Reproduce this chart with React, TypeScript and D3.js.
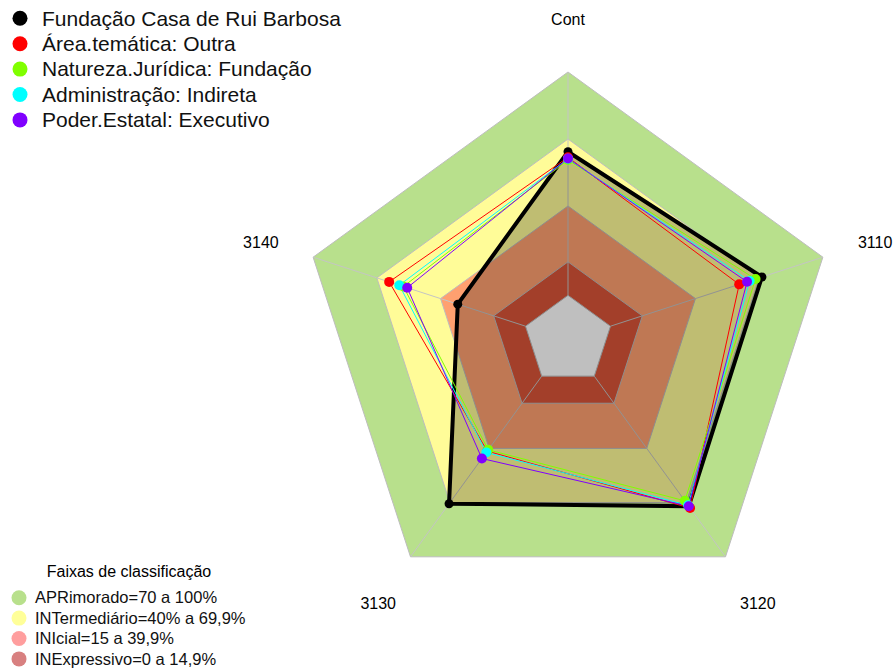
import * as d3 from 'd3';
import React, { useRef, useEffect } from 'react';

// axes of the radar, clockwise from the top
const axes = ['Cont', '3110', '3120', '3130', '3140'];

// series names and values (percent) per axis
const seriesNames = [
    'Fundação Casa de Rui Barbosa',
    'Área.temática: Outra',
    'Natureza.Jurídica: Fundação',
    'Administração: Indireta',
    'Poder.Estatal: Executivo'
];
const fundacao = [64.3, 71.3, 72, 70.6, 31.9];
const areaTematica = [61.8, 60.6, 73, 41.5, 64.2];
const naturezaJuridica = [60.6, 68.3, 69, 40.8, 57.5];
const administracao = [61.2, 65.5, 71.5, 42.2, 59.4];
const poderEstatal = [61.3, 64.3, 72, 45.6, 55.7];
const seriesColors = ['#000000', '#ff0000', '#80ff00', '#00ffff', '#8000ff'];

// classification bands (upper limit of each band)
const bandNames = [
    'APRimorado=70 a 100%',
    'INTermediário=40% a 69,9%',
    'INIcial=15 a 39,9%',
    'INExpressivo=0 a 14,9%'
];
const bandLimits = [100, 70, 40, 15];
const bandFills = ['#b8e08c', '#fffc98', '#ffa070', '#da5538'];
const bandLegendColors = ['#b8e08c', '#ffff99', '#ff9e9e', '#d88080'];

const App = () => {
    const svgRef = useRef(null);

    useEffect(() => {
        const width = 896;
        const height = 670;
        const cx = 568;
        const cy = 340;
        const R = 268;

        const svg = d3.select(svgRef.current);
        svg.selectAll('*').remove();
        svg.attr('width', width).attr('height', height)
            .style('font-family', 'Liberation Sans, Arial, sans-serif');

        // fmsb-like scale: 0 sits at 1/6 of the radius
        const r = d3.scaleLinear().domain([0, 100]).range([R / 6, R]);
        const angle = d3.scalePoint().domain(axes).range([0, 2 * Math.PI * 4 / 5]);

        const radial = d3.lineRadial()
            .angle((d, i) => angle(axes[i]))
            .radius((d) => r(d))
            .curve(d3.curveLinearClosed);

        const g = svg.append('g').attr('transform', `translate(${cx},${cy})`);

        // bands, outer first
        bandLimits.forEach((lim, i) => {
            g.append('path')
                .attr('d', radial(axes.map(() => lim)))
                .attr('fill', bandFills[i])
                .attr('stroke', '#bdbdbd')
                .attr('stroke-width', 1);
        });
        g.append('path')
            .attr('d', radial(axes.map(() => 0)))
            .attr('fill', '#ffffff')
            .attr('stroke', '#bdbdbd')
            .attr('stroke-width', 1);

        // spokes, from the zero ring outwards
        axes.forEach((a) => {
            const t = angle(a);
            g.append('line')
                .attr('x1', r(0) * Math.sin(t)).attr('y1', -r(0) * Math.cos(t))
                .attr('x2', R * Math.sin(t)).attr('y2', -R * Math.cos(t))
                .attr('stroke', '#c4c4c4')
                .attr('stroke-width', 1);
        });

        // axis labels
        axes.forEach((a) => {
            const t = angle(a);
            g.append('text')
                .attr('x', R * 1.205 * Math.sin(t))
                .attr('y', -R * 1.205 * Math.cos(t))
                .attr('dy', '0.47em')
                .attr('text-anchor', 'middle')
                .attr('font-size', 16)
                .text(a);
        });

        const allSeries = [fundacao, areaTematica, naturezaJuridica, administracao, poderEstatal];

        allSeries.forEach((vals, si) => {
            g.append('path')
                .attr('d', radial(vals))
                .attr('fill', si === 0 ? 'rgba(0,0,0,0.25)' : 'none')
                .attr('stroke', seriesColors[si])
                .attr('stroke-width', si === 0 ? 4 : 1)
                .attr('stroke-linejoin', 'round');
        });
        allSeries.forEach((vals, si) => {
            g.selectAll(null)
                .data(vals)
                .enter().append('circle')
                .attr('cx', (d, i) => r(d) * Math.sin(angle(axes[i])))
                .attr('cy', (d, i) => -r(d) * Math.cos(angle(axes[i])))
                .attr('r', si === 0 ? 4.5 : 5)
                .attr('fill', seriesColors[si]);
        });

        // series legend
        const leg = svg.append('g');
        seriesNames.forEach((name, i) => {
            const y = 18.3 + i * 25.4;
            leg.append('circle').attr('cx', 20).attr('cy', y).attr('r', 7.5).attr('fill', seriesColors[i]);
            leg.append('text').attr('x', 42).attr('y', y).attr('dy', '0.35em')
                .attr('font-size', 21).attr('fill', '#111').text(name);
        });

        // band legend
        const bl = svg.append('g');
        bl.append('text').attr('x', 129).attr('y', 571).attr('dy', '0.35em')
            .attr('text-anchor', 'middle').attr('font-size', 16).text('Faixas de classificação');
        bandNames.forEach((name, i) => {
            const y = 597.7 + i * 20.4;
            bl.append('circle').attr('cx', 19).attr('cy', y).attr('r', 7.5).attr('fill', bandLegendColors[i]);
            bl.append('text').attr('x', 35).attr('y', y).attr('dy', '0.35em')
                .attr('font-size', 16.5).attr('fill', '#111').text(name);
        });
    }, []);

    return (
        <div style={{ position: 'absolute', left: 0, top: 0 }}>
            <svg ref={svgRef}></svg>
        </div>
    );
};

export default App;
